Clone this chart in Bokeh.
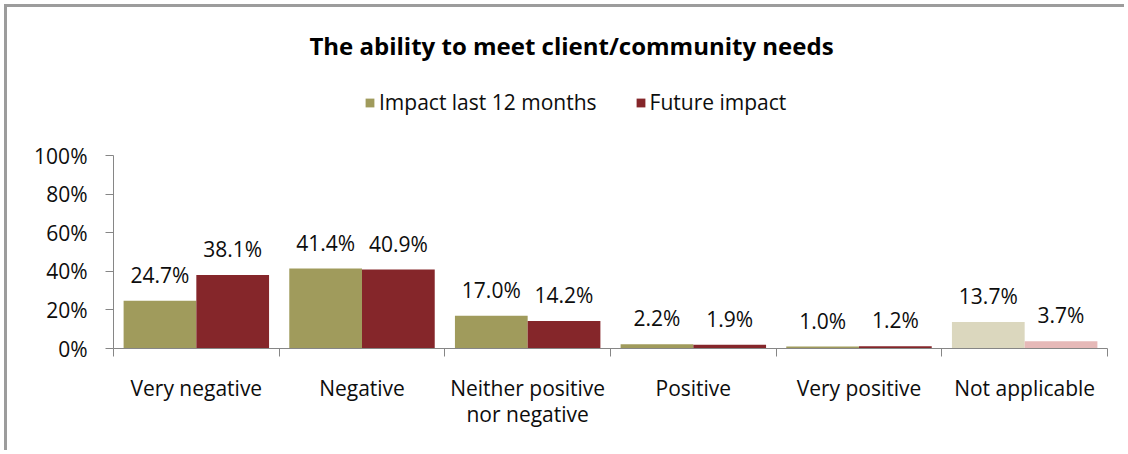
from bokeh.plotting import figure
from bokeh.models import (Range1d, FixedTicker, Legend, LegendItem,
                          Label, ColumnDataSource, PrintfTickFormatter)
from bokeh.core.properties import value
from bokeh.embed import file_html
from bokeh.resources import INLINE

# ---- data ----
chart_title = "The ability to meet client/community needs"
categories = ["Very negative", "Negative", "Neither positive\nnor negative",
              "Positive", "Very positive", "Not applicable"]
series_names = ["Impact last 12 months", "Future impact"]
impact_last_12 = [24.7, 41.4, 17.0, 2.2, 1.0, 13.7]
future_impact = [38.1, 40.9, 14.2, 1.9, 1.2, 3.7]
y_ticks = [0, 20, 40, 60, 80, 100]

# ---- styles ----
colors_last = ["#A09B5C"] * 5 + ["#DBD7BE"]
colors_future = ["#85262A"] * 5 + ["#E6B9B8"]
FONT = "Open Sans"
FS = "21px"
TXT = "#0d0d0d"
AXIS = "#868686"
BAR_W = 0.439

# layout (pixels): frame covers the top of the canvas so the title/legend live inside it
W, H = 1120, 446
LEFT, RIGHT, BOTTOM = 106, 20, 105
AXIS_PX = 193                      # pixel height of the 0..100% axis
FRAME_PX = H - BOTTOM              # frame height
Y_MAX = 100.0 * FRAME_PX / AXIS_PX

n = len(categories)
centers = list(range(n))
src = ColumnDataSource(dict(
    x_last=[c - BAR_W / 2 for c in centers],
    x_future=[c + BAR_W / 2 for c in centers],
    last=impact_last_12,
    future=future_impact,
    c_last=colors_last,
    c_future=colors_future,
    l_last=[f"{v:.1f}%" for v in impact_last_12],
    l_future=[f"{v:.1f}%" for v in future_impact],
))

p = figure(x_range=Range1d(-0.5, n - 0.5), y_range=Range1d(0, Y_MAX),
           width=W, height=H, output_backend="svg", toolbar_location=None,
           min_border_left=LEFT, min_border_right=RIGHT, min_border_top=0,
           min_border_bottom=BOTTOM)
p.styles = {"margin-left": "4px", "margin-top": "4px",
            "border-left": "3px solid #9c9c9c", "border-top": "3px solid #9c9c9c"}
p.outline_line_color = None
p.xgrid.grid_line_color = None
p.ygrid.grid_line_color = None
p.background_fill_color = "white"
p.border_fill_color = "white"

# y axis (only drawn from 0 to 100%)
yax = p.yaxis[0]
yax.bounds = (y_ticks[0], y_ticks[-1])
yax.ticker = FixedTicker(ticks=y_ticks)
yax.formatter = PrintfTickFormatter(format="%d%%")
yax.axis_line_color = AXIS
yax.major_tick_line_color = AXIS
yax.major_tick_out = 8
yax.major_tick_in = 0
yax.minor_tick_line_color = None
yax.major_label_standoff = 18
yax.major_label_text_font = FONT
yax.major_label_text_font_size = FS
yax.major_label_text_color = TXT

# x axis: labels at category centres, ticks at category boundaries
xax = p.xaxis[0]
xax.ticker = FixedTicker(ticks=centers, minor_ticks=[c - 0.5 for c in centers] + [n - 0.5])
xax.major_label_overrides = {c: lab for c, lab in zip(centers, categories)}
xax.axis_line_color = AXIS
xax.major_tick_line_color = None
xax.major_tick_out = 8
xax.major_tick_in = 0
xax.minor_tick_line_color = AXIS
xax.minor_tick_out = 8
xax.minor_tick_in = 0
xax.major_label_standoff = 17
xax.major_label_text_font = FONT
xax.major_label_text_font_size = FS
xax.major_label_text_color = TXT
xax.major_label_text_line_height = 0.95

# bars
r1 = p.vbar(x="x_last", top="last", width=BAR_W, fill_color="c_last", line_color=None, source=src)
r2 = p.vbar(x="x_future", top="future", width=BAR_W, fill_color="c_future", line_color=None, source=src)

# data labels
for xcol, col, lab in (("x_last", "last", "l_last"), ("x_future", "future", "l_future")):
    p.text(x=xcol, y=col, text=lab, source=src,
           text_align="center", text_baseline="alphabetic", y_offset=-26,
           text_font=value(FONT), text_font_size=FS, text_color=TXT)

# title
p.add_layout(Label(x=458, y=303, x_units="screen", y_units="screen", text=chart_title,
                   text_align="center", text_baseline="middle",
                   text_font=FONT, text_font_size="24px", text_font_style="bold",
                   text_color="#000000"))

# legend
legend = Legend(items=[LegendItem(label=series_names[0], renderers=[r1], index=0),
                       LegendItem(label=series_names[1], renderers=[r2], index=0)],
                orientation="horizontal", location=(251, 232),
                glyph_width=11, glyph_height=11, label_standoff=4, spacing=38,
                padding=0, margin=0, border_line_color=None, background_fill_alpha=0,
                label_text_font=FONT, label_text_font_size=FS, label_text_color=TXT,
                label_height=21)
p.add_layout(legend, "center")

open("out.html", "w").write(file_html(p, INLINE))
